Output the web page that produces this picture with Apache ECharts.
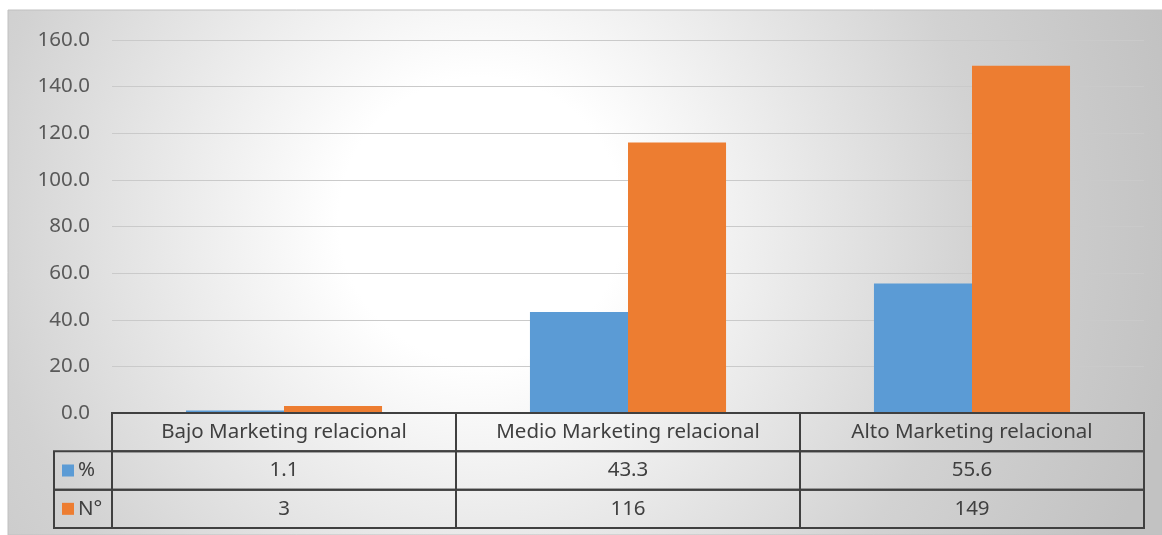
<!DOCTYPE html>
<html>
<head>
<meta charset="utf-8">
<style>
  html, body { margin: 0; padding: 0; background: #fff; }
  #chart { width: 1162px; height: 535px; }
</style>
<script src="https://cdn.jsdelivr.net/npm/echarts@6/dist/echarts.min.js"></script>
</head>
<body>
<div id="chart"></div>
<script>
// Levels of relational marketing and the two measures shown for each
const categories = ['Bajo Marketing relacional', 'Medio Marketing relacional', 'Alto Marketing relacional'];
const pctValues = [1.1, 43.3, 55.6];
const countValues = [3, 116, 149];
const seriesNames = ['%', 'N°'];
const seriesColors = ['#5B9BD5', '#ED7D31'];
const yTicks = { min: 0, max: 160, interval: 20 };

const FONT = 'Noto Sans';
const FONT_SIZE = 20.5;
const LINE = '#404040';
const TEXT = '#404040';

// Rows of the data table below the plot: header row, then one row per series
const tableRows = [
  categories,
  pctValues.map(v => v.toFixed(1)),
  countValues.map(v => String(v))
];
const tableData = [];
tableRows.forEach((row, r) => row.forEach((txt, c) => tableData.push([c, r, txt])));
const legendCells = [[0, 1], [1, 2]]; // [series index, row]

const chart = echarts.init(document.getElementById('chart'));

const option = {
  animation: false,
  graphic: {
    elements: [{
      type: 'rect',
      z: -100,
      silent: true,
      shape: { x: 8, y: 10, width: 1154, height: 525 },
      style: {
        fill: {
          type: 'radial', x: 0.41, y: 0.4, r: 1.35,
          colorStops: [
            { offset: 0, color: '#ffffff' },
            { offset: 0.2, color: '#ffffff' },
            { offset: 0.7, color: '#d2d2d2' },
            { offset: 1, color: '#c2c2c2' }
          ]
        },
        stroke: '#c0c0c0',
        lineWidth: 1
      }
    }]
  },
  grid: [
    { left: 112, right: 18, top: 40, height: 373, containLabel: false },
    { left: 112, right: 18, top: 413, height: 115, containLabel: false }
  ],
  xAxis: [
    {
      gridIndex: 0, type: 'category', data: categories,
      axisLine: { show: false }, axisTick: { show: false }, axisLabel: { show: false }
    },
    {
      gridIndex: 1, type: 'value', min: 0, max: 3, show: false
    }
  ],
  yAxis: [
    {
      gridIndex: 0, type: 'value', min: yTicks.min, max: yTicks.max, interval: yTicks.interval,
      axisLine: { show: false }, axisTick: { show: false },
      axisLabel: {
        formatter: v => v.toFixed(1), color: '#595959',
        fontFamily: FONT, fontSize: FONT_SIZE, margin: 22
      },
      splitLine: { lineStyle: { color: '#cacaca', width: 1 } }
    },
    {
      gridIndex: 1, type: 'value', min: 0, max: 3, inverse: true, show: false
    }
  ],
  series: [
    {
      name: seriesNames[0], type: 'bar', xAxisIndex: 0, yAxisIndex: 0,
      data: pctValues, barGap: '0%', barCategoryGap: '43%',
      itemStyle: { color: seriesColors[0] }
    },
    {
      name: seriesNames[1], type: 'bar', xAxisIndex: 0, yAxisIndex: 0,
      data: countValues, barGap: '0%', barCategoryGap: '43%',
      itemStyle: { color: seriesColors[1] }
    },
    {
      // Table cells with their borders and text
      type: 'custom', xAxisIndex: 1, yAxisIndex: 1, silent: true, z: 5,
      data: tableData,
      renderItem: (params, api) => {
        const c = api.value(0), r = api.value(1);
        const p0 = api.coord([c, r]);
        const p1 = api.coord([c + 1, r + 1]);
        const txt = tableData[params.dataIndex][2];
        return {
          type: 'group',
          children: [
            {
              type: 'rect',
              shape: { x: p0[0], y: p0[1], width: p1[0] - p0[0], height: p1[1] - p0[1] },
              style: { fill: 'transparent', stroke: LINE, lineWidth: 2 }
            },
            {
              type: 'text',
              style: {
                text: txt, x: (p0[0] + p1[0]) / 2, y: (p0[1] + p1[1]) / 2,
                align: 'center', verticalAlign: 'middle',
                fill: TEXT, font: FONT_SIZE + 'px "' + FONT + '"'
              }
            }
          ]
        };
      }
    },
    {
      // Legend keys in the row headers of the table
      type: 'custom', xAxisIndex: 1, yAxisIndex: 1, silent: true, z: 5,
      data: legendCells,
      renderItem: (params, api) => {
        const s = api.value(0), r = api.value(1);
        const p0 = api.coord([0, r]);
        const p1 = api.coord([0, r + 1]);
        const w = 58;
        const left = p0[0] - w;
        const mid = (p0[1] + p1[1]) / 2;
        return {
          type: 'group',
          children: [
            {
              type: 'rect',
              shape: { x: left, y: p0[1], width: w, height: p1[1] - p0[1] },
              style: { fill: 'transparent', stroke: LINE, lineWidth: 2 }
            },
            {
              type: 'rect',
              shape: { x: left + 8, y: mid - 6, width: 12, height: 12 },
              style: { fill: seriesColors[s] }
            },
            {
              type: 'text',
              style: {
                text: seriesNames[s], x: left + 24, y: mid,
                align: 'left', verticalAlign: 'middle',
                fill: TEXT, font: FONT_SIZE + 'px "' + FONT + '"'
              }
            }
          ]
        };
      }
    }
  ]
};

chart.setOption(option);
</script>
</body>
</html>
